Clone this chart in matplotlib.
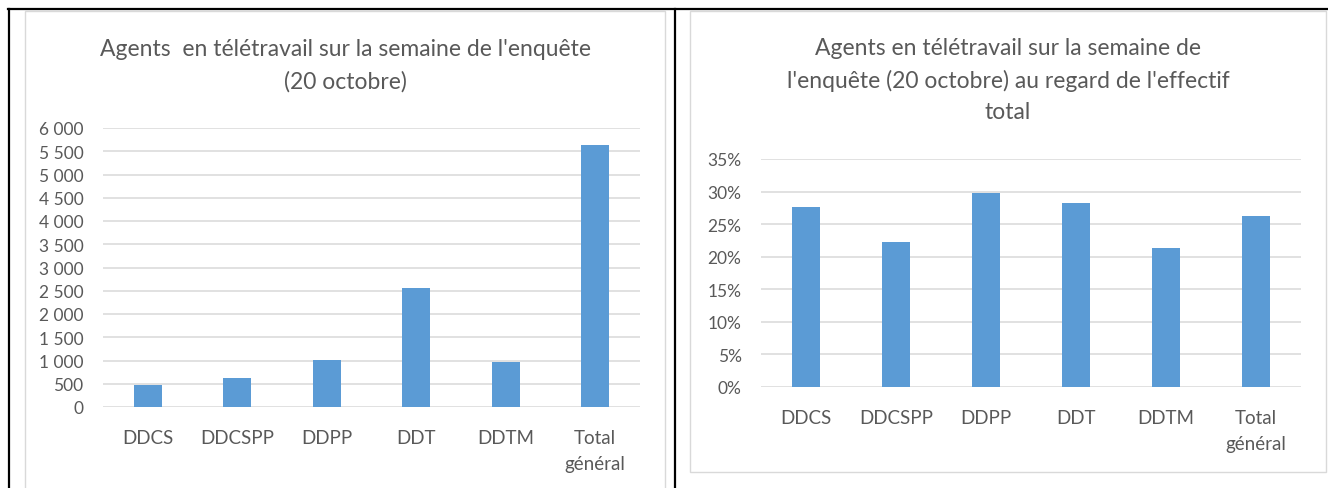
import matplotlib.pyplot as plt
from matplotlib.lines import Line2D
from matplotlib.patches import Rectangle
from matplotlib.ticker import FuncFormatter, MultipleLocator

plt.rcParams['font.family'] = ['Lato', 'DejaVu Sans']

# data
categories = ['DDCS', 'DDCSPP', 'DDPP', 'DDT', 'DDTM', 'Total\ngénéral']
agents = [475, 630, 1010, 2550, 975, 5640]
share = [0.277, 0.223, 0.298, 0.283, 0.213, 0.262]

title_left = "Agents  en télétravail sur la semaine de l'enquête\n(20 octobre)"
title_right = ("Agents en télétravail sur la semaine de\n"
               "l'enquête (20 octobre) au regard de l'effectif\ntotal")

W, H = 1328, 489
BAR = '#5B9BD5'
GRID = '#D9D9D9'
TXT = '#595959'

fig = plt.figure(figsize=(W / 100, H / 100), dpi=100)


def fx(x):
    return x / W


def fy(y):
    return 1 - y / H


def box(x0, y0, x1, y1):
    # pixel box (top-left origin) -> axes rect
    return [fx(x0), fy(y1), (x1 - x0) / W, (y1 - y0) / H]


def style(ax):
    for s in ax.spines.values():
        s.set_visible(False)
    ax.grid(axis='y', color=GRID, lw=1.1)
    ax.set_axisbelow(True)
    ax.tick_params(length=0, colors=TXT, labelsize=12.5)
    ax.tick_params(axis='y', pad=14)
    ax.tick_params(axis='x', pad=16, labelsize=13.5)
    for lab in ax.get_xticklabels():
        lab.set_linespacing(1.65)
    ax.set_xlim(-0.5, len(categories) - 0.5)


# chart frames (grey) and table borders (black)
fig.add_artist(Rectangle((fx(25), fy(495)), (665 - 25) / W, (495 - 12) / H,
                         transform=fig.transFigure, fill=False, ec=GRID, lw=1))
fig.add_artist(Rectangle((fx(690), fy(473)), (1326 - 690) / W, (473 - 12) / H,
                         transform=fig.transFigure, fill=False, ec=GRID, lw=1))
fig.add_artist(Line2D([fx(8), fx(1328)], [fy(10), fy(10)], color='black', lw=1.6))
fig.add_artist(Line2D([fx(9), fx(9)], [fy(10), fy(489)], color='black', lw=1.6))
fig.add_artist(Line2D([fx(674.5), fx(674.5)], [fy(10), fy(489)], color='black', lw=1.6))

# left chart
ax1 = fig.add_axes(box(103, 129, 640, 408))
ax1.bar(range(len(categories)), agents, width=0.31, color=BAR)
ax1.set_ylim(0, 6000)
ax1.yaxis.set_major_locator(MultipleLocator(500))
ax1.yaxis.set_major_formatter(FuncFormatter(lambda v, p: f'{int(v):,}'.replace(',', ' ')))
ax1.set_xticks(range(len(categories)), categories)
style(ax1)
fig.text(fx(345), fy(66), title_left, ha='center', va='center', fontsize=16.5,
         color=TXT, linespacing=1.65)

# right chart
ax2 = fig.add_axes(box(761, 160, 1301, 388))
ax2.bar(range(len(categories)), share, width=0.31, color=BAR)
ax2.set_ylim(0, 0.35)
ax2.yaxis.set_major_locator(MultipleLocator(0.05))
ax2.yaxis.set_major_formatter(FuncFormatter(lambda v, p: f'{v * 100:.0f}%'))
ax2.set_xticks(range(len(categories)), categories)
style(ax2)
fig.text(fx(1008), fy(80.5), title_right, ha='center', va='center', fontsize=16.5,
         color=TXT, linespacing=1.6)

fig.savefig('out.png', dpi=100)
